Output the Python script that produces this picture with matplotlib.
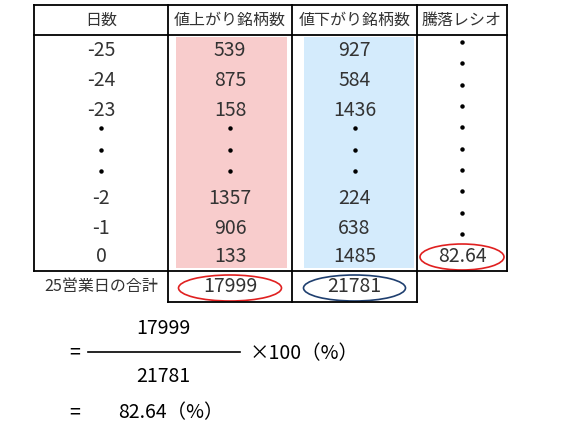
import matplotlib
matplotlib.use("Agg")
import matplotlib.pyplot as plt
from matplotlib.patches import Ellipse, Rectangle

plt.rcParams['font.family'] = ['Noto Sans CJK JP', 'DejaVu Sans']

headers = ["日数", "値上がり銘柄数", "値下がり銘柄数", "騰落レシオ"]
days = ["-25", "-24", "-23", "-2", "-1", "0"]
up = [539, 875, 158, 1357, 906, 133]
down = [927, 584, 1436, 224, 638, 1485]
ratio = "82.64"
sum_label = "25営業日の合計"
sum_up = 17999
sum_down = 21781

fig = plt.figure(figsize=(5.62, 4.45), dpi=100)
ax = fig.add_axes([0, 0, 1, 1])
ax.set_xlim(0, 562); ax.set_ylim(445, 0); ax.axis('off')

cols = [34, 168, 292, 417, 507]
centers = [(cols[i] + cols[i+1]) / 2 for i in range(4)]
top, hb, bb, sb = 5, 35, 271, 302

ax.add_patch(Rectangle((176, 37), 111, 231, color='#f8cccc', lw=0))
ax.add_patch(Rectangle((304, 37), 110, 231, color='#d4ebfc', lw=0))

lw = 1.3
for x in cols:
    ax.plot([x, x], [top, bb], color='black', lw=lw)
for y in [top, hb, bb]:
    ax.plot([cols[0], cols[-1]], [y, y], color='black', lw=lw)
for x in cols[1:4]:
    ax.plot([x, x], [bb, sb], color='black', lw=lw)
ax.plot([cols[1], cols[3]], [sb, sb], color='black', lw=lw)

for c, h in zip(centers, headers):
    ax.text(c, 20, h, ha='center', va='center', fontsize=11.5, color='#333333')

row_y = [50, 80, 110, 199, 228, 256]
fs = 14
for i, y in enumerate(row_y):
    ax.text(centers[0], y, days[i], ha='center', va='center', fontsize=fs, color='#333333')
    ax.text(centers[1], y, str(up[i]), ha='center', va='center', fontsize=fs, color='#333333')
    ax.text(centers[2], y, str(down[i]), ha='center', va='center', fontsize=fs, color='#333333')
for c in centers[:3]:
    for y in [128, 150, 171]:
        ax.plot(c, y, 'o', color='black', ms=2.2)
for y in [42, 63, 85, 106, 127, 149, 170, 191, 213, 234]:
    ax.plot(centers[3], y, 'o', color='black', ms=2.2)

ax.text(centers[3], 257, ratio, ha='center', va='center', fontsize=fs, color='#333333')
ax.add_patch(Ellipse((centers[3], 257), 84, 26, fill=False, ec='#e02020', lw=1.2))

ax.text(centers[0], 287, sum_label, ha='center', va='center', fontsize=11.5, color='#333333')
ax.text(centers[1], 287, str(sum_up), ha='center', va='center', fontsize=fs, color='#333333')
ax.add_patch(Ellipse((centers[1], 288), 103, 26, fill=False, ec='#e02020', lw=1.2))
ax.text(centers[2], 287, str(sum_down), ha='center', va='center', fontsize=fs, color='#333333')
ax.add_patch(Ellipse((centers[2], 288), 102, 26, fill=False, ec='#1f3f6f', lw=1.2))

ax.text(75, 353, "=", ha='center', va='center', fontsize=14, color='black')
ax.plot([88, 240], [352, 352], color='black', lw=1.2)
ax.text(163, 328, str(sum_up), ha='center', va='center', fontsize=14, color='black')
ax.text(163, 377, str(sum_down), ha='center', va='center', fontsize=14, color='black')
ax.text(250, 354, "×100（%）", ha='left', va='center', fontsize=14, color='black')
ax.text(75, 413, "=", ha='center', va='center', fontsize=14, color='black')
ax.text(118, 413, f"{ratio}（%）", ha='left', va='center', fontsize=14, color='black')

fig.savefig("out.png", dpi=100)
